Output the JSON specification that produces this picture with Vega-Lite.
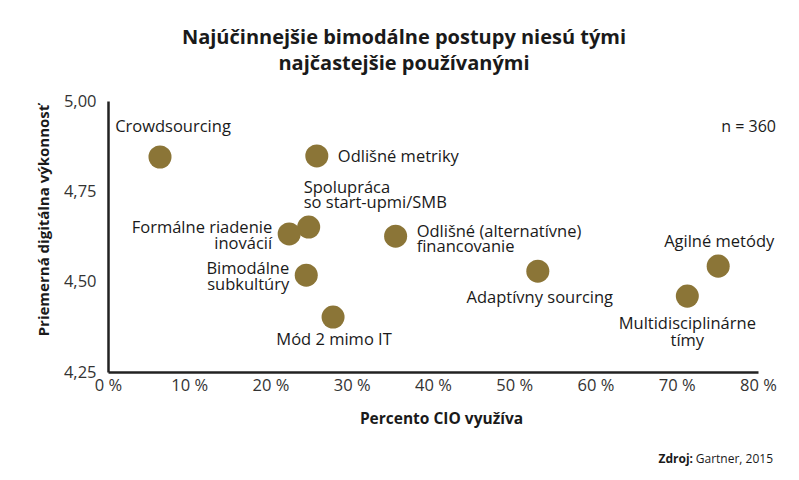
{
  "$schema": "https://vega.github.io/schema/vega-lite/v6.json",
  "width": 650,
  "height": 271,
  "autosize": {"type": "none"},
  "padding": {"left": 108, "top": 101, "right": 41, "bottom": 108},
  "background": "white",
  "config": {
    "view": {"stroke": null},
    "font": "Open Sans",
    "text": {"font": "Open Sans"}
  },
  "title": {
    "text": ["Najúčinnejšie bimodálne postupy niesú tými", "najčastejšie používanými"],
    "font": "Open Sans",
    "fontSize": 20,
    "fontWeight": "bold",
    "color": "#1a1a1a",
    "lineHeight": 26,
    "anchor": "middle",
    "frame": "group",
    "dx": -29,
    "offset": 19
  },
  "datasets": {
    "pts": [
      {"name": "Crowdsourcing", "label": "Crowdsourcing", "pct": 6.4, "perf": 4.845},
      {"name": "Odlišné metriky", "label": "Odlišné metriky", "pct": 25.7, "perf": 4.848},
      {"name": "Spolupráca", "label": "Spolupráca\nso start-upmi/SMB", "pct": 24.7, "perf": 4.651},
      {"name": "Formálne riadenie inovácií", "label": "Formálne riadenie\ninovácií", "pct": 22.3, "perf": 4.632},
      {"name": "Odlišné financovanie", "label": "Odlišné (alternatívne)\nfinancovanie", "pct": 35.4, "perf": 4.626},
      {"name": "Bimodálne subkultúry", "label": "Bimodálne\nsubkultúry", "pct": 24.4, "perf": 4.518},
      {"name": "Mód 2 mimo IT", "label": "Mód 2 mimo IT", "pct": 27.7, "perf": 4.402},
      {"name": "Adaptívny sourcing", "label": "Adaptívny sourcing", "pct": 52.9, "perf": 4.529},
      {"name": "Agilné metódy", "label": "Agilné metódy", "pct": 75.1, "perf": 4.543},
      {"name": "Multidisciplinárne tímy", "label": "Multidisciplinárne\ntímy", "pct": 71.3, "perf": 4.46}
    ],
    "notes": [
      {"kind": "n", "text": "n = 360", "pct": 80, "perf": 4.928},
      {"kind": "src", "text": "Gartner, 2015", "pct": 80, "perf": 4.008},
      {"kind": "srcb", "text": "Zdroj:", "pct": 80, "perf": 4.008}
    ]
  },
  "encoding": {
    "x": {
      "field": "pct",
      "type": "quantitative",
      "scale": {"domain": [0, 80], "nice": false, "zero": false},
      "axis": {
        "values": [0, 10, 20, 30, 40, 50, 60, 70, 80],
        "labelExpr": "datum.value + ' %'",
        "title": "Percento CIO využíva",
        "grid": false,
        "ticks": false,
        "domainColor": "#222222",
        "domainWidth": 2.5,
        "labelFont": "Open Sans",
        "labelFontSize": 16.5,
        "labelColor": "#333333",
        "labelPadding": 5,
        "labelFlush": false,
        "titleFont": "Open Sans",
        "titleFontSize": 15.5,
        "titleFontWeight": "bold",
        "titleColor": "#1a1a1a",
        "titlePadding": 18,
        "titleX": 333
      }
    },
    "y": {
      "field": "perf",
      "type": "quantitative",
      "scale": {"domain": [4.25, 5.0], "nice": false, "zero": false},
      "axis": {
        "values": [4.25, 4.5, 4.75, 5.0],
        "labelExpr": "replace(format(datum.value, '.2f'), '.', ',')",
        "title": "Priemerná digitálna výkonnosť",
        "grid": false,
        "ticks": false,
        "domainColor": "#222222",
        "domainWidth": 2.5,
        "labelFont": "Open Sans",
        "labelFontSize": 16.5,
        "labelColor": "#333333",
        "labelPadding": 12,
        "labelFlush": false,
        "titleFont": "Open Sans",
        "titleFontSize": 15,
        "titleFontWeight": "bold",
        "titleColor": "#1a1a1a",
        "titlePadding": 12,
        "titleY": 119
      }
    }
  },
  "layer": [
    {
      "data": {"name": "pts"},
      "mark": {"type": "circle", "size": 530, "color": "#8b7537", "opacity": 1}
    },
    {
      "data": {"name": "pts"},
      "transform": [{"filter": "datum.name === 'Crowdsourcing'"}],
      "mark": {"type": "text", "align": "center", "baseline": "middle", "dx": 13, "dy": -30, "fontSize": 16.5, "color": "#1a1a1a", "lineBreak": "\n", "lineHeight": 16},
      "encoding": {"text": {"field": "label"}}
    },
    {
      "data": {"name": "pts"},
      "transform": [{"filter": "datum.name === 'Odlišné metriky'"}],
      "mark": {"type": "text", "align": "left", "baseline": "middle", "dx": 21, "dy": 1, "fontSize": 16.5, "color": "#1a1a1a", "lineBreak": "\n", "lineHeight": 16},
      "encoding": {"text": {"field": "label"}}
    },
    {
      "data": {"name": "pts"},
      "transform": [{"filter": "datum.name === 'Odlišné financovanie'"}],
      "mark": {"type": "text", "align": "left", "baseline": "middle", "dx": 21, "dy": -4, "fontSize": 16.5, "color": "#1a1a1a", "lineBreak": "\n", "lineHeight": 15},
      "encoding": {"text": {"field": "label"}}
    },
    {
      "data": {"name": "pts"},
      "transform": [{"filter": "datum.name === 'Spolupráca'"}],
      "mark": {"type": "text", "align": "left", "baseline": "middle", "dx": -5, "dy": -39, "fontSize": 16.5, "color": "#1a1a1a", "lineBreak": "\n", "lineHeight": 15},
      "encoding": {"text": {"field": "label"}}
    },
    {
      "data": {"name": "pts"},
      "transform": [{"filter": "datum.name === 'Formálne riadenie inovácií' || datum.name === 'Bimodálne subkultúry'"}],
      "mark": {"type": "text", "align": "right", "baseline": "middle", "dx": -17, "dy": -6, "fontSize": 16.5, "color": "#1a1a1a", "lineBreak": "\n", "lineHeight": 16},
      "encoding": {"text": {"field": "label"}}
    },
    {
      "data": {"name": "pts"},
      "transform": [{"filter": "datum.name === 'Mód 2 mimo IT'"}],
      "mark": {"type": "text", "align": "center", "baseline": "middle", "dx": 1, "dy": 23, "fontSize": 16.5, "color": "#1a1a1a", "lineBreak": "\n", "lineHeight": 16},
      "encoding": {"text": {"field": "label"}}
    },
    {
      "data": {"name": "pts"},
      "transform": [{"filter": "datum.name === 'Adaptívny sourcing'"}],
      "mark": {"type": "text", "align": "center", "baseline": "middle", "dx": 2, "dy": 27, "fontSize": 16.5, "color": "#1a1a1a", "lineBreak": "\n", "lineHeight": 16},
      "encoding": {"text": {"field": "label"}}
    },
    {
      "data": {"name": "pts"},
      "transform": [{"filter": "datum.name === 'Agilné metódy'"}],
      "mark": {"type": "text", "align": "center", "baseline": "middle", "dx": 1, "dy": -24, "fontSize": 16.5, "color": "#1a1a1a", "lineBreak": "\n", "lineHeight": 16},
      "encoding": {"text": {"field": "label"}}
    },
    {
      "data": {"name": "pts"},
      "transform": [{"filter": "datum.name === 'Multidisciplinárne tímy'"}],
      "mark": {"type": "text", "align": "center", "baseline": "middle", "dx": 0, "dy": 28, "fontSize": 16.5, "color": "#1a1a1a", "lineBreak": "\n", "lineHeight": 17},
      "encoding": {"text": {"field": "label"}}
    },
    {
      "data": {"name": "notes"},
      "transform": [{"filter": "datum.kind === 'n'"}],
      "mark": {"type": "text", "align": "right", "baseline": "middle", "dx": 18, "fontSize": 16, "color": "#1a1a1a"},
      "encoding": {"text": {"field": "text"}}
    },
    {
      "data": {"name": "notes"},
      "transform": [{"filter": "datum.kind === 'src'"}],
      "mark": {"type": "text", "align": "right", "baseline": "middle", "dx": 15, "fontSize": 12, "color": "#1a1a1a"},
      "encoding": {"text": {"field": "text"}}
    },
    {
      "data": {"name": "notes"},
      "transform": [{"filter": "datum.kind === 'srcb'"}],
      "mark": {"type": "text", "align": "right", "baseline": "middle", "dx": -65, "fontSize": 12, "fontWeight": "bold", "color": "#1a1a1a"},
      "encoding": {"text": {"field": "text"}}
    }
  ]
}
